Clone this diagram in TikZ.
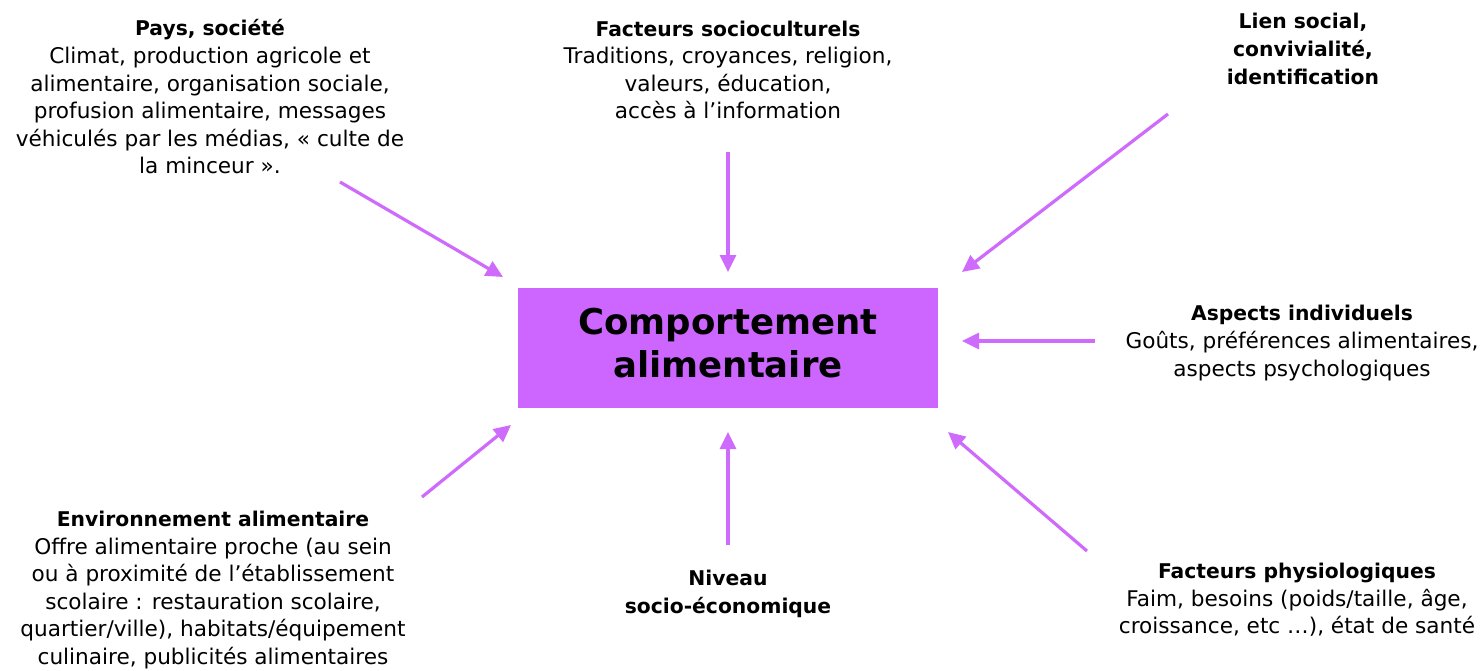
\documentclass[tikz,border=0pt]{standalone}
\usepackage{fontspec}
\setmainfont{DejaVu Sans}
\usetikzlibrary{arrows.meta}
\definecolor{violetbox}{RGB}{204,102,255}
\definecolor{violetarrow}{RGB}{206,106,252}
\newcommand{\ttl}[1]{{\fontsize{20.3}{27.6}\selectfont\bfseries #1}}
\tikzset{
  txt/.style={align=center, inner sep=0pt, font=\fontsize{21.6}{27.6}\selectfont},
  mainbox/.style={fill=violetbox, draw=none, minimum width=420pt, minimum height=120pt, inner sep=0pt},
  maintext/.style={align=center, inner sep=0pt, font=\fontsize{35.5}{43}\selectfont\bfseries},
  arr/.style={draw=violetarrow, line width=3.2pt, -{Triangle[length=17pt,width=16pt]}}
}
\begin{document}
\begin{tikzpicture}[x=1pt,y=-1pt]
\useasboundingbox (0,0) rectangle (1484,670);
\node[mainbox] (main) at (728,348) {};
\node[maintext] (maintxt) at (728,343) {Comportement\\alimentaire};

\node[txt] (pays) at (210,97) {\ttl{Pays, société}\\Climat, production agricole et\\alimentaire, organisation sociale,\\profusion alimentaire, messages\\véhiculés par les médias, « culte de\\la minceur ».};
\node[txt] (socio) at (728,70) {\ttl{Facteurs socioculturels}\\Traditions, croyances, religion,\\valeurs, éducation,\\accès à l’information};
\node[txt] (lien) at (1303,49) {\ttl{Lien social,}\\\ttl{convivialité,}\\\ttl{identification}};
\node[txt] (aspects) at (1302,343) {\ttl{Aspects individuels}\\Goûts, préférences alimentaires,\\aspects psychologiques};
\node[txt] (physio) at (1297,600) {\ttl{Facteurs physiologiques}\\Faim, besoins (poids/taille, âge,\\croissance, etc …), état de santé};
\node[txt] (niveau) at (728,594) {\ttl{Niveau}\\\ttl{socio-économique}};
\node[txt] (env) at (213,590) {\ttl{Environnement alimentaire}\\Offre alimentaire proche (au sein\\ou à proximité de l’établissement\\scolaire : restauration scolaire,\\quartier/ville), habitats/équipement\\culinaire, publicités alimentaires};

\coordinate (paysS) at (340,182);  \coordinate (paysE) at (503,277);
\coordinate (socioS) at (728,152); \coordinate (socioE) at (728,272);
\coordinate (lienS) at (1168,114); \coordinate (lienE) at (962,272);
\coordinate (aspS) at (1095,341);  \coordinate (aspE) at (962,341);
\coordinate (phyS) at (1087,551);  \coordinate (phyE) at (948,432);
\coordinate (nivS) at (728,545);   \coordinate (nivE) at (728,432);
\coordinate (envS) at (422,497);   \coordinate (envE) at (511,425);

\draw[arr] (paysS) -- (paysE);
\draw[arr] (socioS) -- (socioE);
\draw[arr] (lienS) -- (lienE);
\draw[arr] (aspS) -- (aspE);
\draw[arr] (phyS) -- (phyE);
\draw[arr] (nivS) -- (nivE);
\draw[arr] (envS) -- (envE);
\end{tikzpicture}
\end{document}
